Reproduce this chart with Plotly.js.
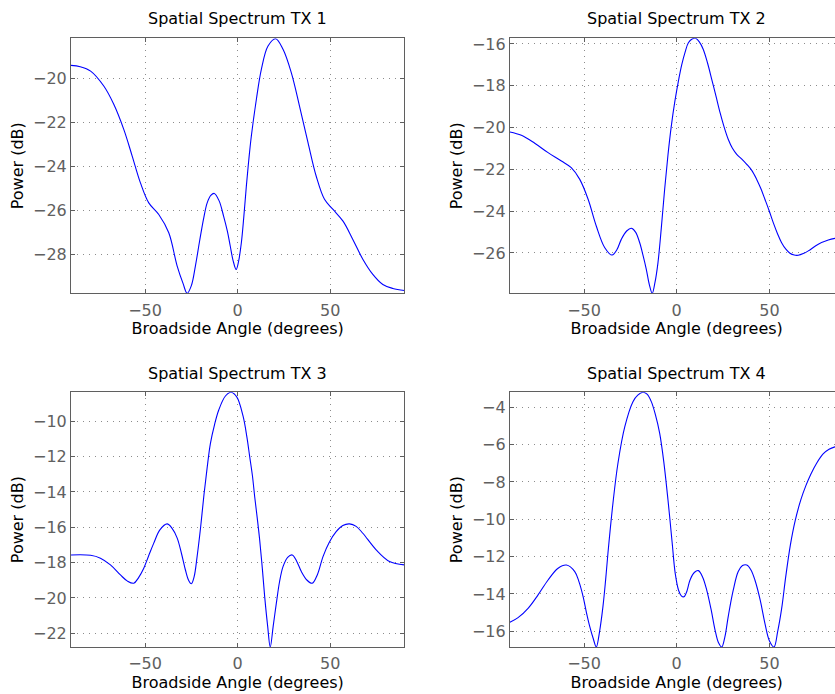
<!DOCTYPE html>
<html>
<head>
<meta charset="utf-8">
<script src="https://cdn.plot.ly/plotly-3.0.1.min.js"></script>
<style>
html, body { margin: 0; padding: 0; overflow: hidden; background: #fff; }
#chart { width: 845px; height: 694px; }
</style>
</head>
<body>
<div id="chart"></div>
<script>
// ---- Data ----
const titles = ["Spatial Spectrum TX 1", "Spatial Spectrum TX 2", "Spatial Spectrum TX 3", "Spatial Spectrum TX 4"];
const xLabel = "Broadside Angle (degrees)";
const yLabel = "Power (dB)";

const tx1Angle = [-90, -85, -79.4, -72.3, -66.9, -61.5, -57, -52.5, -48, -42.6, -37.2, -32.7, -29.5, -27.3, -25, -22.8, -20.5, -18.3, -16.5, -14.5, -12.6, -10, -7.6, -5.5, -4, -2.5, -0.8, 0.5, 2.0, 3.3, 4.7, 6.0, 7.4, 10.1, 12.8, 16.4, 20.5, 24.5, 29, 33.4, 38, 42.4, 46.9, 51.5, 56.9, 62.2, 67.6, 73, 78.4, 83.8, 90];
const tx1Power = [-19.39, -19.45, -19.65, -20.33, -21.16, -22.3, -23.5, -24.73, -25.64, -26.17, -27.0, -28.5, -29.3, -29.75, -29.4, -28.5, -27.35, -26.32, -25.65, -25.3, -25.21, -25.55, -26.24, -26.95, -27.6, -28.25, -28.67, -28.3, -27.45, -26.3, -24.88, -23.7, -22.6, -20.94, -19.57, -18.51, -18.18, -18.66, -19.73, -21.24, -22.9, -24.42, -25.48, -25.94, -26.47, -27.3, -28.2, -28.89, -29.35, -29.53, -29.62];

const tx2Angle = [-90, -83.8, -76.6, -69.4, -62.2, -56.9, -52.3, -47.8, -43.4, -38.8, -34.9, -32.3, -29.9, -27, -24.5, -22.2, -20, -18.2, -16.4, -14.8, -13.2, -11.7, -10.1, -8.3, -6.5, -4.7, -2.9, -1.0, 1.2, 2.7, 4.5, 6.3, 8.3, 10.2, 12.2, 14.3, 16.6, 18.9, 21.2, 23.4, 25.6, 27.8, 30, 32.4, 35, 37.8, 40.5, 43.1, 45.4, 47.6, 49.9, 52.1, 54.4, 56.6, 58.9, 61.1, 63.4, 65.6, 68.3, 71, 76.4, 81.8, 85.4, 90];
const tx2Power = [-20.21, -20.37, -20.75, -21.2, -21.6, -21.92, -22.48, -23.43, -24.71, -25.75, -26.1, -25.85, -25.35, -24.95, -24.82, -25.0, -25.5, -26.1, -26.78, -27.5, -27.93, -27.4, -26.46, -24.8, -22.95, -21.3, -19.92, -18.75, -17.65, -17.0, -16.4, -15.94, -15.76, -15.73, -15.9, -16.25, -16.9, -17.69, -18.5, -19.29, -19.98, -20.56, -20.98, -21.28, -21.5, -21.76, -22.05, -22.47, -22.92, -23.43, -23.98, -24.55, -25.08, -25.51, -25.82, -26.01, -26.1, -26.11, -26.03, -25.9, -25.58, -25.38, -25.3, -25.24];

const tx3Angle = [-90, -79.4, -74.1, -68.7, -63.3, -59.5, -56.1, -53.5, -50.7, -48, -45.3, -42, -38.1, -35.5, -32.7, -30.3, -28.2, -26.5, -25, -23.5, -21.9, -20, -18.3, -16.5, -14.7, -12.5, -10.2, -6.6, -3.6, -0.5, 2.9, 5.0, 6.5, 8.0, 9.2, 10.6, 11.9, 13.3, 14.6, 16.2, 17.6, 19.2, 20.9, 22.6, 24.5, 27, 29.5, 32, 34.4, 37.5, 40.3, 43, 46.1, 49.5, 53.2, 56.8, 60.4, 64, 67.6, 74.8, 82, 90];
const tx3Power = [-17.57, -17.59, -17.75, -18.13, -18.7, -19.05, -19.17, -18.85, -18.32, -17.6, -16.9, -16.15, -15.81, -16.05, -16.6, -17.5, -18.42, -19.0, -19.2, -18.8, -17.66, -16.0, -14.27, -12.65, -11.25, -10.2, -9.36, -8.57, -8.36, -8.62, -9.7, -10.9, -12.0, -13.1, -14.27, -15.5, -16.72, -18.3, -19.93, -21.6, -22.78, -21.6, -20.3, -19.1, -18.23, -17.7, -17.57, -17.95, -18.51, -19.0, -19.17, -18.7, -17.66, -16.85, -16.25, -15.9, -15.81, -15.95, -16.34, -17.28, -17.94, -18.13];

const tx4Angle = [-90, -85.6, -80.2, -74.8, -69.4, -64, -59.5, -55, -52.7, -50.5, -48.7, -46.9, -45, -43.4, -41.6, -39.8, -38.4, -37.1, -34.4, -31.7, -28, -23.6, -21, -18.2, -16, -13.7, -11.5, -9.2, -7, -4.7, -2.5, -0.8, 1.0, 2.5, 3.9, 5.5, 7.2, 9.5, 11.7, 14, 16.2, 18.5, 20.7, 22.5, 24.3, 26, 27.8, 30.5, 33.2, 35.5, 37.8, 40, 42.2, 45, 47.6, 50, 52.5, 54.5, 56.6, 58.8, 61.3, 64, 67, 69.7, 72.3, 75.5, 79, 82.2, 85.4, 90];
const tx4Power = [-15.52, -15.27, -14.77, -14.05, -13.25, -12.62, -12.45, -12.8, -13.35, -14.14, -15.0, -15.75, -16.4, -16.84, -16.0, -14.68, -13.3, -11.82, -9.14, -7.0, -5.04, -3.7, -3.35, -3.2, -3.3, -3.7, -4.4, -5.39, -6.9, -8.97, -11.2, -12.9, -13.8, -14.1, -14.15, -13.85, -13.25, -12.85, -12.75, -13.1, -13.79, -14.8, -15.93, -16.6, -16.84, -16.3, -15.21, -13.8, -12.8, -12.48, -12.45, -12.7, -13.25, -14.3, -15.57, -16.5, -16.84, -16.0, -14.8, -13.1, -11.4, -10.05, -8.95, -8.2, -7.6, -7.0, -6.5, -6.25, -6.12, -6.02];

const yRanges = [[-29.75, -18.16], [-27.93, -15.73], [-22.78, -8.36], [-16.84, -3.2]];

// ---- Build figure ----
const series = [[tx1Angle, tx1Power], [tx2Angle, tx2Power], [tx3Angle, tx3Power], [tx4Angle, tx4Power]];
const W = 845, H = 694;
const xDom = [[71 / W, 404.3 / W], [509.9 / W, 843.5 / W]];
const yDom = [[1 - 293.3 / H, 1 - 38.3 / H], [1 - 647 / H, 1 - 392.3 / H]];
const titleY = [1 - 18 / H, 1 - 373.5 / H];
const FONT = 'DejaVu Sans, sans-serif';

const traces = [];
const layout = {
  width: W, height: H,
  margin: {l: 0, r: 0, t: 0, b: 0},
  paper_bgcolor: '#ffffff', plot_bgcolor: '#ffffff',
  showlegend: false,
  font: {family: FONT, size: 16, color: '#000'},
  annotations: []
};

series.forEach((s, i) => {
  const n = i + 1;
  const sfx = n === 1 ? '' : String(n);
  const col = i % 2, row = Math.floor(i / 2);
  traces.push({
    x: s[0], y: s[1], type: 'scatter', mode: 'lines',
    line: {color: '#0000ff', width: 1.1, shape: 'spline', smoothing: 1},
    xaxis: 'x' + sfx, yaxis: 'y' + sfx,
    hoverinfo: 'skip'
  });
  const common = {
    showgrid: true, gridcolor: '#8c8c8c', griddash: '1px,5px', gridwidth: 1,
    showline: true, linecolor: '#5f5f5f', linewidth: 1, mirror: 'ticks',
    ticks: 'inside', ticklen: 4, tickcolor: '#5f5f5f',
    zeroline: false,
    tickfont: {family: FONT, size: 16, color: '#606060'}
  };
  layout['xaxis' + sfx] = Object.assign({}, common, {
    domain: xDom[col], anchor: 'y' + sfx,
    range: [-90, 90], tick0: 0, dtick: 50,
    ticklabelstandoff: 2,
    title: {text: xLabel, font: {family: FONT, size: 16, color: '#000'}, standoff: 4}
  });
  layout['yaxis' + sfx] = Object.assign({}, common, {
    domain: yDom[row], anchor: 'x' + sfx,
    range: yRanges[i], tick0: 0, dtick: 2,
    title: {text: yLabel, font: {family: FONT, size: 16, color: '#000'}, standoff: 5}
  });
  layout.annotations.push({
    text: titles[i], xref: 'paper', yref: 'paper',
    x: (xDom[col][0] + xDom[col][1]) / 2, y: titleY[row],
    xanchor: 'center', yanchor: 'middle', showarrow: false,
    font: {family: FONT, size: 16, color: '#000'}
  });
});

Plotly.newPlot('chart', traces, layout, {staticPlot: true, displayModeBar: false});
</script>
</body>
</html>
